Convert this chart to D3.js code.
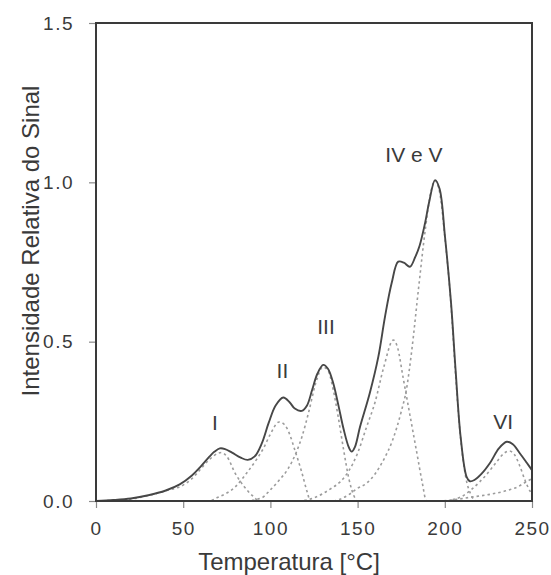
<!DOCTYPE html>
<html>
<head>
<meta charset="utf-8">
<script src="https://cdn.jsdelivr.net/npm/d3@7"></script>
<style>
  body { margin: 0; background: #fff; }
  text { font-family: "Liberation Sans", Arial, Helvetica, sans-serif; fill: #3a3a3a; }
</style>
</head>
<body>
<svg id="chart" width="551" height="575"></svg>
<script>
// Glow curve: measured total signal (°C, relative intensity)
const totalT = [0, 10, 20, 30, 40, 48, 55, 60, 65, 68, 71, 74, 78, 83, 87, 91, 95, 99, 103, 107.4, 111, 114, 118, 121, 124, 127, 130.3, 133, 136, 139, 142, 145, 146.6, 148.5, 151.4, 157, 161.9, 165.7, 169.5, 173.3, 176.5, 180, 183, 185.5, 188.6, 191.1, 194.4, 197, 200.1, 203.6, 206.2, 209.1, 212.5, 214.4, 217, 221, 226, 231, 235.5, 239, 243, 247, 250];
const totalI = [0.0, 0.003, 0.008, 0.018, 0.033, 0.052, 0.08, 0.108, 0.139, 0.155, 0.165, 0.163, 0.152, 0.136, 0.129, 0.14, 0.18, 0.245, 0.3, 0.325, 0.31, 0.29, 0.283, 0.3, 0.35, 0.4, 0.427, 0.415, 0.37, 0.3, 0.225, 0.168, 0.155, 0.17, 0.233, 0.339, 0.453, 0.578, 0.683, 0.751, 0.748, 0.735, 0.765, 0.8, 0.87, 0.94, 1.007, 0.98, 0.83, 0.62, 0.41, 0.2, 0.076, 0.062, 0.066, 0.085, 0.12, 0.165, 0.186, 0.178, 0.15, 0.12, 0.097];

// Deconvoluted component peaks
const peak1T = [0, 10, 20, 30, 40, 50, 55, 60, 65, 70, 72, 75, 80, 85, 90, 94, 100];
const peak1I = [0, 0.002, 0.006, 0.017, 0.032, 0.05, 0.07, 0.1, 0.13, 0.15, 0.152, 0.14, 0.085, 0.045, 0.015, 0, 0];
const peak2T = [60, 65, 70, 75, 80, 86, 92, 96, 100, 105, 108, 111, 114, 118, 121, 123, 130];
const peak2I = [0, 0, 0.012, 0.025, 0.045, 0.085, 0.13, 0.165, 0.21, 0.248, 0.24, 0.21, 0.16, 0.09, 0.03, 0, 0];
const peak3T = [80, 85, 95, 100, 105, 110, 115, 118, 122, 126, 130, 133, 136, 139, 142, 145, 148, 150, 160];
const peak3I = [0, 0, 0.01, 0.035, 0.065, 0.1, 0.155, 0.2, 0.28, 0.37, 0.42, 0.41, 0.35, 0.26, 0.16, 0.07, 0.015, 0, 0];
const peak4T = [110, 115, 125, 135, 140, 145, 150, 155, 160, 165, 170.5, 173, 176, 180, 184, 187, 189.5, 195];
const peak4I = [0, 0, 0.01, 0.04, 0.06, 0.095, 0.15, 0.23, 0.31, 0.42, 0.505, 0.48, 0.39, 0.27, 0.15, 0.06, 0, 0];
const peak5T = [130, 135, 145, 150, 155, 160, 165, 170, 175, 178, 181, 185, 189, 192, 194.4, 197, 200, 203.5, 206, 209, 212, 215, 218, 225];
const peak5I = [0, 0, 0.02, 0.04, 0.055, 0.085, 0.13, 0.19, 0.28, 0.35, 0.47, 0.67, 0.86, 0.97, 1.005, 0.97, 0.83, 0.62, 0.41, 0.2, 0.075, 0.02, 0, 0];
const peak6T = [195, 200, 205, 210, 215, 220, 225, 230, 234, 237, 240, 243, 246, 249, 250];
const peak6I = [0, 0, 0.005, 0.015, 0.035, 0.06, 0.09, 0.125, 0.15, 0.157, 0.145, 0.11, 0.065, 0.03, 0.022];
const peak7T = [190, 195, 205, 215, 225, 235, 242, 246, 250];
const peak7I = [0, 0, 0.004, 0.012, 0.02, 0.032, 0.045, 0.058, 0.07];

// Axis ticks
const xTicks = [0, 50, 100, 150, 200, 250];
const yTicks = [0.0, 0.5, 1.0, 1.5];

// Peak annotations
const peakLabels = ["I", "II", "III", "IV e V", "VI"];
const peakLabelT = [68.2, 106.9, 131.9, 182.3, 233.4];
const peakLabelI = [0.248, 0.411, 0.549, 1.086, 0.251];

const svg = d3.select("#chart");
const plotLeft = 96, plotRight = 532, plotTop = 23, plotBottom = 501;

const x = d3.scaleLinear().domain([0, 250]).range([plotLeft, plotRight]);
const y = d3.scaleLinear().domain([0, 1.5]).range([plotBottom, plotTop]);

svg.append("defs").append("clipPath").attr("id", "plot")
  .append("rect").attr("x", plotLeft).attr("y", plotTop - 2)
  .attr("width", plotRight - plotLeft).attr("height", plotBottom - plotTop + 2);

const zip = (a, b) => a.map((v, i) => [v, b[i]]);

// Components stay monotone between samples (no dips below the baseline);
// the total signal uses a rounder spline through its samples.
const componentLine = d3.line()
  .x(d => x(d[0]))
  .y(d => y(d[1]))
  .curve(d3.curveMonotoneX);
const totalLine = d3.line()
  .x(d => x(d[0]))
  .y(d => y(d[1]))
  .curve(d3.curveCatmullRom.alpha(0.5));

const components = [
  zip(peak1T, peak1I), zip(peak2T, peak2I), zip(peak3T, peak3I),
  zip(peak4T, peak4I), zip(peak5T, peak5I), zip(peak6T, peak6I),
  zip(peak7T, peak7I)
];

const g = svg.append("g").attr("clip-path", "url(#plot)");

g.selectAll("path.component")
  .data(components)
  .join("path")
  .attr("class", "component")
  .attr("d", componentLine)
  .attr("fill", "none")
  .attr("stroke", "#9c9c9c")
  .attr("stroke-width", 1.6)
  .attr("stroke-dasharray", "2.5,3");

g.append("path")
  .datum(zip(totalT, totalI))
  .attr("d", totalLine)
  .attr("fill", "none")
  .attr("stroke", "#474747")
  .attr("stroke-width", 1.9);

// Axes
const xAxis = svg.append("g")
  .attr("transform", `translate(0,${plotBottom})`)
  .call(d3.axisBottom(x).tickValues(xTicks).tickFormat(d3.format("d")).tickSize(7).tickPadding(14));
const yAxis = svg.append("g")
  .attr("transform", `translate(${plotLeft},0)`)
  .call(d3.axisLeft(y).tickValues(yTicks).tickFormat(d3.format(".1f")).tickSize(7).tickPadding(15));

[xAxis, yAxis].forEach(a => {
  a.select(".domain").remove();
  a.selectAll(".tick line").attr("stroke", "#8a8a8a").attr("stroke-width", 1.2);
  a.selectAll(".tick text")
    .style("font-family", '"Liberation Sans", Arial, sans-serif')
    .style("font-size", "19px")
    .style("letter-spacing", "1.5px")
    .attr("fill", "#5a5a5a");
});

// Frame
svg.append("rect")
  .attr("x", plotLeft).attr("y", plotTop)
  .attr("width", plotRight - plotLeft).attr("height", plotBottom - plotTop)
  .attr("fill", "none")
  .attr("stroke", "#3a3a3a")
  .attr("stroke-width", 2);

// Peak labels
svg.selectAll("text.peak")
  .data(peakLabels)
  .join("text")
  .attr("class", "peak")
  .attr("x", (d, i) => x(peakLabelT[i]))
  .attr("y", (d, i) => y(peakLabelI[i]))
  .attr("dy", "0.36em")
  .attr("text-anchor", "middle")
  .style("font-size", "21px")
  .text(d => d);

// Axis titles
svg.append("text")
  .attr("x", 289).attr("y", 570)
  .attr("text-anchor", "middle")
  .style("font-size", "24px")
  .text("Temperatura [°C]");

svg.append("text")
  .attr("transform", "translate(39,241) rotate(-90)")
  .attr("text-anchor", "middle")
  .style("font-size", "24px")
  .text("Intensidade Relativa do Sinal");
</script>
</body>
</html>
